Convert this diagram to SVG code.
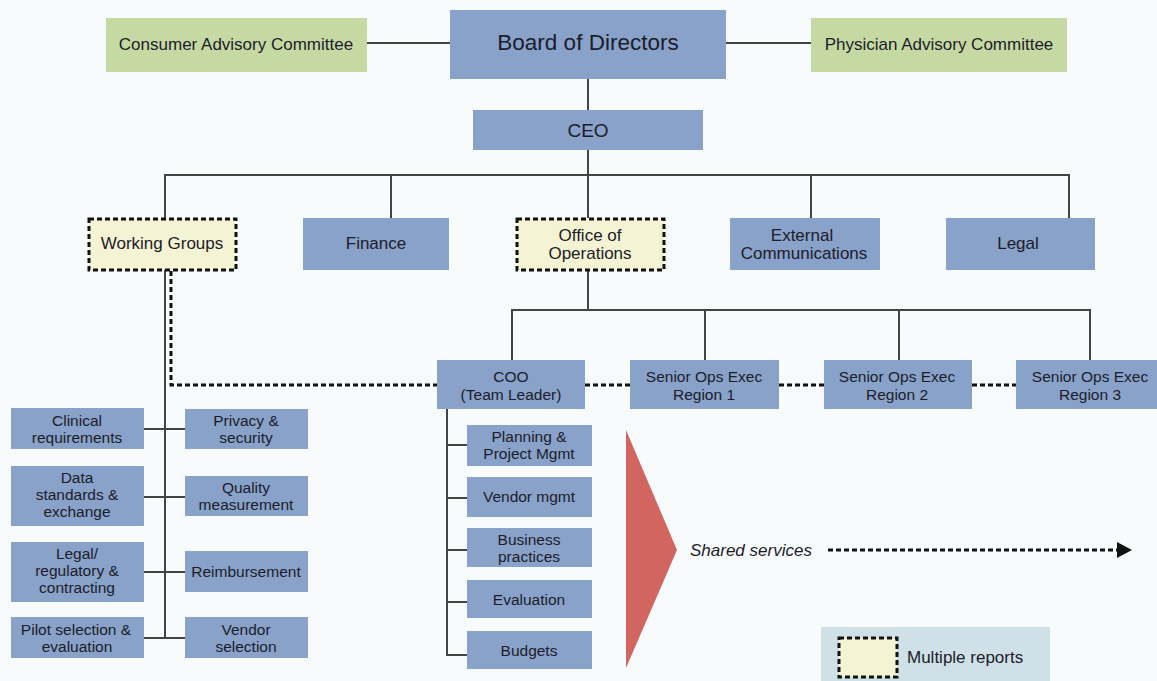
<svg xmlns="http://www.w3.org/2000/svg" width="1157" height="681" viewBox="0 0 1157 681">
<style>
.b{fill:#88a2c9}
.g{fill:#c6d9a3}
.y{fill:#f4f3d3;stroke:#111;stroke-width:3;stroke-dasharray:5 3}
text{font-family:"Liberation Sans",Arial,sans-serif;fill:#1c1c2a;text-anchor:middle}
.t{font-size:15.5px}
.m{font-size:17px}
.ln{stroke:#444;stroke-width:2;fill:none}
.dt{stroke:#111;stroke-width:3;fill:none;stroke-dasharray:5 3}
</style>
<defs>
<marker id="ah" markerWidth="16" markerHeight="18" refX="0" refY="8" orient="auto" markerUnits="userSpaceOnUse">
<path d="M0,0 L15,8 L0,16 Z" fill="#111"/>
</marker>
</defs>
<rect width="1157" height="681" fill="#f8fbfc"/>
<g id="connectors">
<line class="ln" x1="367" y1="43" x2="450" y2="43"/>
<line class="ln" x1="726" y1="43" x2="811" y2="43"/>
<line class="ln" x1="588" y1="79" x2="588" y2="110"/>
<polyline class="ln" points="588,150 588,175"/>
<polyline class="ln" points="165,218 165,175 1069,175 1069,218"/>
<line class="ln" x1="391" y1="175" x2="391" y2="218"/>
<line class="ln" x1="588" y1="175" x2="588" y2="218"/>
<line class="ln" x1="811" y1="175" x2="811" y2="218"/>
<line class="ln" x1="588" y1="270" x2="588" y2="310"/>
<polyline class="ln" points="512,360 512,310 1090,310 1090,360"/>
<line class="ln" x1="705" y1="310" x2="705" y2="360"/>
<line class="ln" x1="899" y1="310" x2="899" y2="360"/>
<line class="ln" x1="165" y1="270" x2="165" y2="638"/>
<line class="ln" x1="144" y1="429" x2="185" y2="429"/>
<line class="ln" x1="144" y1="497" x2="185" y2="497"/>
<line class="ln" x1="144" y1="572" x2="185" y2="572"/>
<line class="ln" x1="144" y1="638" x2="185" y2="638"/>
<polyline class="ln" points="447,409 447,655 467,655"/>
<line class="ln" x1="447" y1="445" x2="467" y2="445"/>
<line class="ln" x1="447" y1="498" x2="467" y2="498"/>
<line class="ln" x1="447" y1="550" x2="467" y2="550"/>
<line class="ln" x1="447" y1="602" x2="467" y2="602"/>
<polyline class="dt" points="171,271 171,385 437,385"/>
<line class="dt" x1="585" y1="385" x2="630" y2="385"/>
<line class="dt" x1="779" y1="385" x2="824" y2="385"/>
<line class="dt" x1="972" y1="385" x2="1016" y2="385"/>
<line class="dt" x1="828" y1="550" x2="1117" y2="550" marker-end="url(#ah)"/>
</g>
<g id="consumer"><rect class="g" x="106" y="18" width="261" height="54"/><text class="m" x="236" y="50">Consumer Advisory Committee</text></g>
<g id="board"><rect class="b" x="450" y="10" width="276" height="69"/><text x="588" y="50" font-size="22.5">Board of Directors</text></g>
<g id="physician"><rect class="g" x="811" y="18" width="256" height="54"/><text class="m" x="939" y="50">Physician Advisory Committee</text></g>
<g id="ceo"><rect class="b" x="473" y="110" width="230" height="40"/><text x="588" y="137" font-size="19">CEO</text></g>
<g id="working"><rect class="y" x="89" y="219" width="147" height="51"/><text class="m" x="162" y="249">Working Groups</text></g>
<g id="finance"><rect class="b" x="303" y="218" width="146" height="52"/><text class="m" x="376" y="249">Finance</text></g>
<g id="office"><rect class="y" x="517" y="219" width="147" height="51"/><text class="m" x="590" y="241">Office of</text><text class="m" x="590" y="259">Operations</text></g>
<g id="external"><rect class="b" x="730" y="218" width="150" height="52"/><text class="m" x="802" y="241">External</text><text class="m" x="804" y="259">Communications</text></g>
<g id="legal"><rect class="b" x="946" y="218" width="149" height="52"/><text class="m" x="1018" y="249">Legal</text></g>
<g id="coo"><rect class="b" x="437" y="360" width="148" height="49"/><text class="t" x="511" y="382">COO</text><text class="t" x="511" y="400">(Team Leader)</text></g>
<g id="sr1"><rect class="b" x="630" y="360" width="149" height="49"/><text class="t" x="704" y="382">Senior Ops Exec</text><text class="t" x="704" y="400">Region 1</text></g>
<g id="sr2"><rect class="b" x="824" y="360" width="148" height="49"/><text class="t" x="897" y="382">Senior Ops Exec</text><text class="t" x="897" y="400">Region 2</text></g>
<g id="sr3"><rect class="b" x="1016" y="360" width="148" height="49"/><text class="t" x="1090" y="382">Senior Ops Exec</text><text class="t" x="1090" y="400">Region 3</text></g>
<g id="clinical"><rect class="b" x="11" y="408" width="133" height="41"/><text class="t" x="77" y="426">Clinical</text><text class="t" x="77" y="443">requirements</text></g>
<g id="data"><rect class="b" x="11" y="466" width="133" height="60"/><text class="t" x="77" y="483">Data</text><text class="t" x="77" y="500">standards &amp;</text><text class="t" x="77" y="517">exchange</text></g>
<g id="legalreg"><rect class="b" x="11" y="542" width="133" height="60"/><text class="t" x="77" y="559">Legal/</text><text class="t" x="77" y="576">regulatory &amp;</text><text class="t" x="77" y="593">contracting</text></g>
<g id="pilot"><rect class="b" x="11" y="617" width="133" height="41"/><text class="t" x="76" y="635">Pilot selection &amp;</text><text class="t" x="77" y="652">evaluation</text></g>
<g id="privacy"><rect class="b" x="185" y="409" width="123" height="40"/><text class="t" x="246" y="426">Privacy &amp;</text><text class="t" x="246" y="443">security</text></g>
<g id="quality"><rect class="b" x="185" y="476" width="123" height="40"/><text class="t" x="246" y="493">Quality</text><text class="t" x="246" y="510">measurement</text></g>
<g id="reimb"><rect class="b" x="185" y="551" width="123" height="41"/><text class="t" x="246" y="577">Reimbursement</text></g>
<g id="vendorsel"><rect class="b" x="185" y="617" width="123" height="41"/><text class="t" x="246" y="635">Vendor</text><text class="t" x="246" y="652">selection</text></g>
<g id="planning"><rect class="b" x="467" y="425" width="125" height="41"/><text class="t" x="529" y="442">Planning &amp;</text><text class="t" x="529" y="459">Project Mgmt</text></g>
<g id="vendormgmt"><rect class="b" x="467" y="477" width="125" height="40"/><text class="t" x="529" y="502">Vendor mgmt</text></g>
<g id="business"><rect class="b" x="467" y="528" width="125" height="39"/><text class="t" x="529" y="545">Business</text><text class="t" x="529" y="562">practices</text></g>
<g id="evaluation"><rect class="b" x="467" y="580" width="125" height="38"/><text class="t" x="529" y="605">Evaluation</text></g>
<g id="budgets"><rect class="b" x="467" y="631" width="125" height="38"/><text class="t" x="529" y="656">Budgets</text></g>
<g id="shared"><polygon points="626,430 677,550 626,668" fill="#d2655f"/><text class="m" x="690" y="556" font-style="italic" style="text-anchor:start">Shared services</text></g>
<g id="legend"><rect x="821" y="627" width="229" height="54" fill="#cfe1e6"/><rect class="y" x="839" y="638" width="58" height="39"/><text class="m" x="907" y="663" style="text-anchor:start">Multiple reports</text></g>
</svg>
